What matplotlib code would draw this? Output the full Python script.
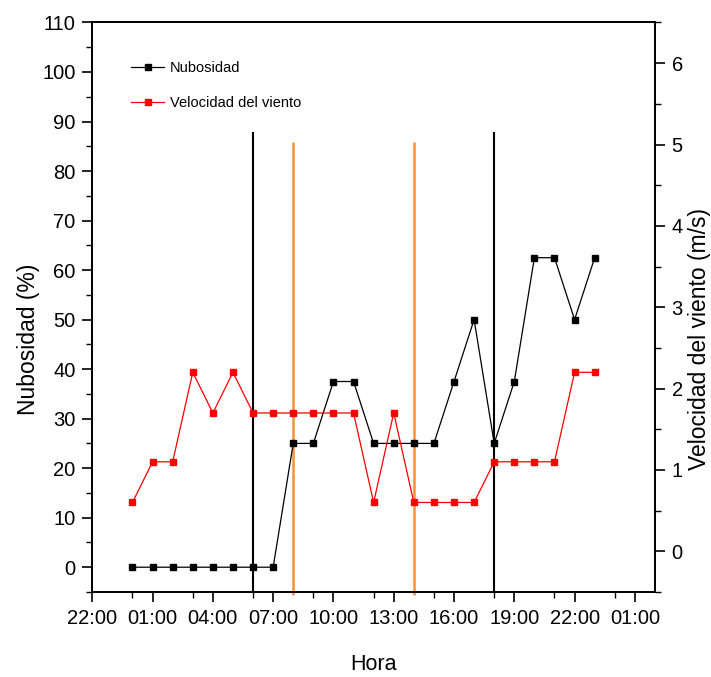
import numpy as np
import matplotlib.pyplot as plt
from matplotlib.ticker import FixedLocator, MultipleLocator

plt.rcParams['font.family'] = ['Liberation Sans', 'DejaVu Sans']

# Datos (hora del día 0..23)
horas = list(range(24))
nubosidad = [0, 0, 0, 0, 0, 0, 0, 0, 25, 25, 37.5, 37.5, 25, 25, 25, 25,
             37.5, 50, 25, 37.5, 62.5, 62.5, 50, 62.5]
viento = [0.6, 1.1, 1.1, 2.2, 1.7, 2.2, 1.7, 1.7, 1.7, 1.7, 1.7, 1.7,
          0.6, 1.7, 0.6, 0.6, 0.6, 0.6, 1.1, 1.1, 1.1, 1.1, 2.2, 2.2]

# Etiquetas del eje x (cada 3 h, empezando 22:00 del día anterior)
tick_horas = [-2, 1, 4, 7, 10, 13, 16, 19, 22, 25]
tick_labels = ['22:00', '01:00', '04:00', '07:00', '10:00', '13:00',
               '16:00', '19:00', '22:00', '01:00']

# Líneas verticales: amanecer/atardecer (negro) y ventana (naranja)
lineas_negras = [6, 18]
lineas_naranjas = [8, 14]
alto_negras = 87.8
alto_naranjas = 85.8

fig = plt.figure(figsize=(7.11, 6.77), dpi=100)
ax1 = fig.add_axes([0.1298, 0.1256, 0.7914, 0.8412])
ax2 = ax1.twinx()

ax1.vlines(lineas_negras, -5, alto_negras, color='black', lw=1.5, zorder=1)
ax1.vlines(lineas_naranjas, -5.7, alto_naranjas, color='#F39237', lw=1.8,
           zorder=1, clip_on=False)

l1, = ax1.plot(horas, nubosidad, color='black', lw=0.9, marker='s', ms=5,
               mfc='black', mec='black', label='Nubosidad', zorder=3)
l2, = ax2.plot(horas, viento, color='red', lw=0.9, marker='s', ms=5,
               mfc='red', mec='red', label='Velocidad del viento', zorder=3)

ax1.set_xlim(-2, 26)
ax1.set_ylim(-5, 110)
ax2.set_ylim(-0.5, 6.5)

ax1.xaxis.set_major_locator(FixedLocator(tick_horas))
ax1.set_xticklabels(tick_labels)
ax1.xaxis.set_minor_locator(FixedLocator(list(range(0, 26, 3))))
ax1.yaxis.set_major_locator(MultipleLocator(10))
ax1.yaxis.set_minor_locator(MultipleLocator(5))
ax2.yaxis.set_major_locator(MultipleLocator(1))
ax2.yaxis.set_minor_locator(MultipleLocator(0.5))

for ax in (ax1, ax2):
    ax.tick_params(which='major', direction='out', length=7, width=1.2, pad=5,
                   labelsize=14.5)
    ax.tick_params(which='minor', direction='out', length=4, width=1.0)
    for s in ax.spines.values():
        s.set_linewidth(1.3)

ax1.set_xlabel('Hora', fontsize=15.5)
ax1.set_ylabel('Nubosidad (%)', fontsize=16.5)
ax2.set_ylabel('Velocidad del viento (m/s)', fontsize=16.5)
ax1.xaxis.set_label_coords(0.5, -0.128)
ax1.yaxis.set_label_coords(-0.114, 0.444)
ax2.yaxis.set_label_coords(1.08, 0.444)
ax1.xaxis.label.set_verticalalignment('center')
ax1.yaxis.label.set_verticalalignment('center')
ax2.yaxis.label.set_verticalalignment('center')

ax1.legend([l1, l2], ['Nubosidad', 'Velocidad del viento'],
           loc='upper left', bbox_to_anchor=(0.045, 0.955), frameon=False,
           handlelength=2.3, labelspacing=1.4, handletextpad=0.4,
           prop={'size': 10.5})

fig.savefig('out.png', dpi=100)
